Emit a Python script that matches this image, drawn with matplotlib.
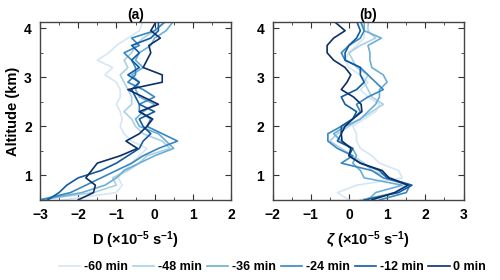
import matplotlib
matplotlib.use("Agg")
import matplotlib.pyplot as plt
from matplotlib.ticker import MultipleLocator

plt.rcParams['font.family'] = ['Liberation Sans', 'DejaVu Sans']
plt.rcParams['font.weight'] = 'bold'
plt.rcParams['mathtext.fontset'] = 'custom'
plt.rcParams['mathtext.rm'] = 'Liberation Sans'
plt.rcParams['mathtext.bf'] = 'Liberation Sans:bold'
plt.rcParams['mathtext.it'] = 'Liberation Sans:italic'

altitude = [0.5, 0.65, 0.8, 0.95, 1.1, 1.25, 1.4, 1.55, 1.7, 1.85, 2.0, 2.15, 2.3,
            2.45, 2.6, 2.75, 2.9, 3.05, 3.2, 3.35, 3.5, 3.65, 3.8, 3.95, 4.15]
labels = ['-60 min', '-48 min', '-36 min', '-24 min', '-12 min', '0 min']
colors = ['#d6e6f4', '#abd0e6', '#6aaed6', '#3787c0', '#105ba4', '#0d2f66']

# divergence D (x10^-5 s^-1)
div_60 = [-2.4, -1.0, -0.85, -0.95, -0.8, -0.6, -0.4, -0.2, -0.6, -0.8, -0.9, -0.85, -0.9,
          -1.0, -0.9, -0.9, -1.0, -1.3, -1.1, -1.5, -1.2, -1.0, -0.7, -0.4, -0.3]
div_48 = [-3.0, -1.6, -1.0, -1.1, -0.7, -0.4, -0.2, 0.4, 0.2, -0.3, -0.5, -0.6, -0.8,
          -0.6, -0.6, -0.7, -0.8, -0.9, -0.7, -0.8, -0.6, -0.5, -0.3, 0.0, 0.3]
div_36 = [-3.0, -1.9, -1.3, -1.0, -0.8, -0.4, 0.0, 0.5, 0.3, 0.1, -0.4, -0.5, -0.3,
          0.0, -0.4, -0.5, -0.4, -0.6, -0.3, -0.5, -0.4, -0.1, 0.0, 0.3, 0.5]
div_24 = [-3.0, -2.2, -1.8, -1.4, -1.0, -0.6, -0.3, 0.1, 0.6, 0.2, -0.2, -0.1, -0.4,
          -0.4, 0.0, -0.3, -0.7, -0.5, -0.5, -0.6, -0.8, -0.4, -0.6, 0.0, 0.3]
div_12 = [-2.8, -2.5, -2.3, -2.0, -1.4, -1.0, -0.7, -0.4, -0.3, -0.1, -0.3, -0.4, 0.0,
          -0.4, -0.5, -0.6, -0.4, -0.7, -0.4, -0.6, -0.4, -0.6, -0.1, 0.1, 0.1]
div_0 = [-2.0, -1.6, -1.55, -1.8, -1.65, -1.5, -0.9, -0.45, -0.75, -0.4, -0.2, -0.05, -0.4,
         0.1, -0.3, -0.7, 0.2, 0.2, -0.3, -0.2, -0.1, -0.15, 0.15, -0.1, 0.05]

# vorticity zeta (x10^-5 s^-1)
vor_60 = [0.0, -0.3, 0.2, 1.4, 1.3, 0.8, 0.6, 0.3, 0.2, 0.2, 0.1, 0.4, 0.7,
          0.8, 0.5, 0.3, 0.5, 0.3, 0.0, -0.1, 0.0, 0.2, 0.4, 0.4, 0.3]
vor_48 = [0.3, 1.2, 1.5, 1.1, 0.6, 0.4, 0.1, -0.2, -0.5, -0.3, 0.0, 0.3, 0.6,
          0.9, 0.6, 0.5, 0.4, 0.5, 0.2, 0.1, 0.0, 0.3, 0.7, 0.5, 0.5]
vor_36 = [0.5, 0.7, 1.4, 0.4, 0.3, 0.1, 0.2, 0.1, -0.2, -0.4, -0.1, 0.3, 0.5,
          0.7, 0.8, 0.8, 1.0, 0.9, 0.6, 0.55, 0.55, 0.5, 0.85, 0.4, 0.4]
vor_24 = [0.8, 1.5, 1.6, 0.9, 0.6, -0.2, 0.1, -0.3, -0.55, -0.55, -0.2, 0.1, 0.3,
          0.2, 0.5, 0.9, 0.7, 0.5, 0.3, -0.1, -0.2, 0.0, 0.3, 0.4, 0.3]
vor_12 = [0.4, 1.3, 1.65, 1.0, 0.8, 0.3, 0.0, 0.1, -0.3, -0.2, -0.2, 0.1, 0.2,
          -0.1, -0.2, 0.2, 0.4, 0.3, 0.3, -0.1, -0.1, 0.0, 0.2, 0.3, 0.2]
vor_0 = [0.6, 1.2, 1.55, 1.05, 0.87, 0.3, 0.0, 0.05, -0.18, -0.2, -0.1, 0.1, 0.34,
         0.32, 0.12, -0.2, -0.05, 0.05, -0.1, -0.4, -0.57, -0.57, -0.4, -0.1, -0.4]

div_series = [div_60, div_48, div_36, div_24, div_12, div_0]
vor_series = [vor_60, vor_48, vor_36, vor_24, vor_12, vor_0]

fig = plt.figure(figsize=(5, 2.8), dpi=100)
ax1 = fig.add_axes([0.08, 0.286, 0.382, 0.634])
ax2 = fig.add_axes([0.545, 0.286, 0.382, 0.634])

for vals, c, lab in zip(div_series, colors, labels):
    ax1.plot(vals, altitude, color=c, lw=1.2, label=lab)
for vals, c in zip(vor_series, colors):
    ax2.plot(vals, altitude, color=c, lw=1.2)

ax1.set_xlim(-3, 2)
ax2.set_xlim(-2, 3)
for ax in (ax1, ax2):
    ax.set_ylim(0.5, 4.12)
    ax.set_yticks([1, 2, 3, 4])
    ax.xaxis.set_major_locator(MultipleLocator(1))
    ax.xaxis.set_minor_locator(MultipleLocator(0.5))
    ax.yaxis.set_minor_locator(MultipleLocator(0.5))
    ax.tick_params(which='both', direction='in', top=True, right=True,
                   labelsize=10, color='#333333', pad=6)
    ax.tick_params(which='major', length=4)
    ax.tick_params(which='minor', length=2)
    for s in ax.spines.values():
        s.set_color('#444444')
        s.set_linewidth(1.0)
    for t in ax.get_xticklabels() + ax.get_yticklabels():
        t.set_fontweight('bold')

ax1.set_title('(a)', fontsize=10, fontweight='bold', pad=2)
ax2.set_title('(b)', fontsize=10, fontweight='bold', pad=2)
ax1.set_ylabel('Altitude (km)', fontsize=10.5, fontweight='bold', labelpad=3)
ax1.set_xlabel(r'D (×10$^{\mathbf{-5}}$ s$^{\mathbf{-1}}$)', fontsize=10.5,
               fontweight='bold', labelpad=5)
ax2.set_xlabel(r'$\zeta$ (×10$^{\mathbf{-5}}$ s$^{\mathbf{-1}}$)', fontsize=10.5,
               fontweight='bold', labelpad=5)

fig.legend(loc='lower center', bbox_to_anchor=(0.545, -0.015), ncol=6, frameon=False,
           handlelength=1.7, handletextpad=0.3, columnspacing=0.4,
           prop={'weight': 'bold', 'size': 9})

fig.savefig('out.png', dpi=100)
